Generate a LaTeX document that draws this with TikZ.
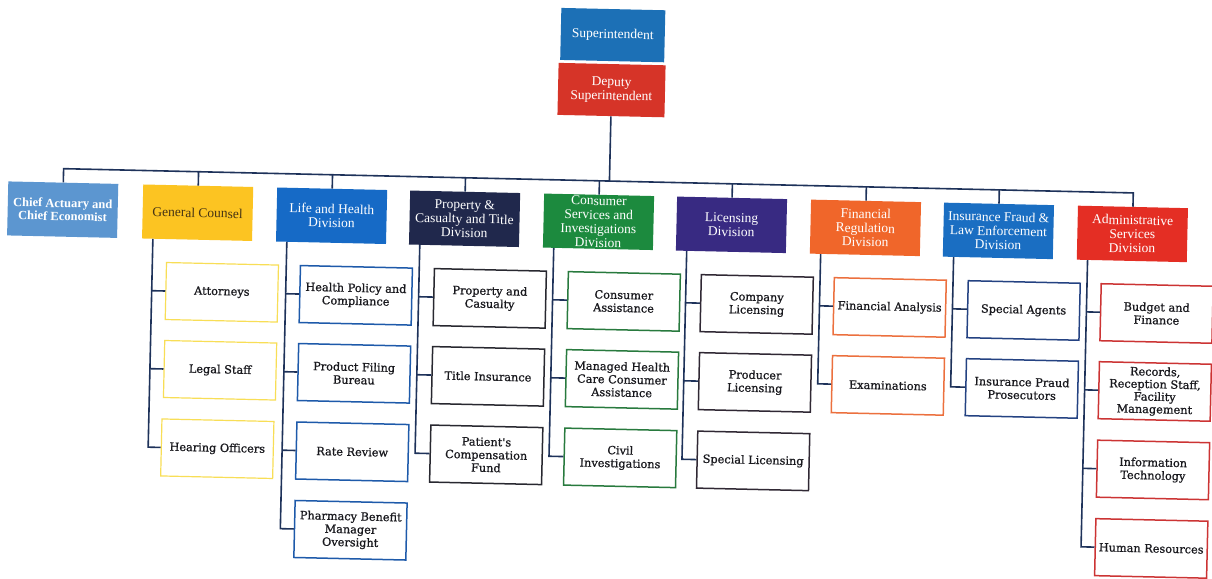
\documentclass[tikz,border=0pt]{standalone}
\usepackage{fontspec}
\setmainfont{Liberation Serif}
\newfontfamily\boxfont[FakeBold=0.9]{DejaVu Serif}
\usetikzlibrary{calc}

\definecolor{linec}{RGB}{30,50,90}
\definecolor{txt}{RGB}{25,25,30}
\definecolor{supc}{RGB}{28,112,182}
\definecolor{depc}{RGB}{214,52,40}
\definecolor{actc}{RGB}{92,150,208}
\definecolor{gcc}{RGB}{252,196,34}
\definecolor{gctxt}{RGB}{70,52,20}
\definecolor{lifec}{RGB}{22,106,198}
\definecolor{pcc}{RGB}{32,40,76}
\definecolor{conc}{RGB}{28,138,62}
\definecolor{licc}{RGB}{56,42,130}
\definecolor{finc}{RGB}{240,102,42}
\definecolor{fraudc}{RGB}{26,110,194}
\definecolor{admc}{RGB}{228,46,36}
\definecolor{gcb}{RGB}{248,222,86}
\definecolor{lifeb}{RGB}{30,90,170}
\definecolor{pcb}{RGB}{40,40,48}
\definecolor{conb}{RGB}{40,122,62}
\definecolor{licb}{RGB}{48,40,52}
\definecolor{finb}{RGB}{236,112,62}
\definecolor{fraudb}{RGB}{36,66,130}
\definecolor{admb}{RGB}{204,52,52}

% spine of a division: vertical line near its left edge, with a stub to each unit
\newcommand\unitspine[3]{%
  \coordinate (#1-a) at ($(#1.north west)!0.1!(#1.north east)$);
  \coordinate (#1-b) at ($(#1.south west)!0.1!(#1.south east)$);
  \foreach \u in {#2} {\draw[conn] ($(#1-a)!(\u.west)!(#1-b)$) -- (\u.west);}
  \draw[conn] (#1-b) -- ($(#1-a)!(#3.west)!(#1-b)$) -- (#3.west);
}

\begin{document}
\begin{tikzpicture}[x=1pt,y=-1pt,
  conn/.style={draw=linec, line width=1.6pt},
  headbox/.style={fill=#1, text=white, minimum width=110pt, minimum height=54pt,
    inner sep=1pt, align=center, font=\fontsize{13.5}{14}\selectfont},
  unitbox/.style={draw=#1, line width=1.5pt, fill=white, text=txt,
    minimum width=112pt, minimum height=57pt, inner sep=1pt, align=center,
    font=\boxfont\fontsize{11.3}{13}\selectfont}]

\fill[white] (0,0) rectangle (1212,578);
\useasboundingbox (0,0) rectangle (1212,578);

\begin{scope}[rotate around={-1.3:(606,289)}, transform shape]

% executive
\node[headbox=supc, minimum width=104pt, minimum height=52pt] (sup) at (607,35) {Superintendent};
\node[headbox=depc, minimum width=107pt, minimum height=52pt] (dep) at (607,90) {Deputy\\Superintendent};

% divisions
\node[headbox=actc, font=\bfseries\fontsize{12.5}{13}\selectfont] (d1) at (61,222) {Chief Actuary and\\Chief Economist};
\node[headbox=gcc, text=gctxt] (d2) at (196,222) {General Counsel};
\node[headbox=lifec] (d3) at (330,222) {Life and Health\\Division};
\node[headbox=pcc] (d4) at (463,222) {Property \&\\Casualty and Title\\Division};
\node[headbox=conc] (d5) at (597,222) {Consumer\\Services and\\Investigations\\Division};
\node[headbox=licc] (d6) at (730,222) {Licensing\\Division};
\node[headbox=finc] (d7) at (864,222) {Financial\\Regulation\\Division};
\node[headbox=fraudc] (d8) at (997,222) {Insurance Fraud \&\\Law Enforcement\\Division};
\node[headbox=admc] (d9) at (1131,222) {Administrative\\Services\\Division};

% bus
\coordinate (bus1) at (61,181);
\coordinate (bus9) at (1131,181);
\draw[conn] (d1.north) -- (bus1) -- (bus9) -- (d9.north);
\draw[conn] (dep.south) -- ($(bus1)!(dep.south)!(bus9)$);
\foreach \d in {d2,d3,d4,d5,d6,d7,d8}
  \draw[conn] (\d.north) -- ($(bus1)!(\d.north)!(bus9)$);

% units
\node[unitbox=gcb, line width=1.2pt] (a1) at (222,301) {Attorneys};
\node[unitbox=gcb, line width=1.2pt] (a2) at (222,379) {Legal Staff};
\node[unitbox=gcb, line width=1.2pt] (a3) at (221,457.5) {Hearing Officers};

\node[unitbox=lifeb] (b1) at (356,301) {Health Policy and\\Compliance};
\node[unitbox=lifeb] (b2) at (356,379) {Product Filing\\Bureau};
\node[unitbox=lifeb] (b3) at (356,457.5) {Rate Review};
\node[unitbox=lifeb] (b4) at (356,536) {Pharmacy Benefit\\Manager\\Oversight};

\node[unitbox=pcb] (c1) at (490,301) {Property and\\Casualty};
\node[unitbox=pcb] (c2) at (490,379) {Title Insurance};
\node[unitbox=pcb] (c3) at (490,457.5) {Patient's\\Compensation\\Fund};

\node[unitbox=conb] (e1) at (624,301) {Consumer\\Assistance};
\node[unitbox=conb] (e2) at (624,379) {Managed Health\\Care Consumer\\Assistance};
\node[unitbox=conb] (e3) at (624,457.5) {Civil\\Investigations};

\node[unitbox=licb] (f1) at (757,301) {Company\\Licensing};
\node[unitbox=licb] (f2) at (757,379) {Producer\\Licensing};
\node[unitbox=licb] (f3) at (757,457.5) {Special Licensing};

\node[unitbox=finb] (g1) at (890,301) {Financial Analysis};
\node[unitbox=finb] (g2) at (890,379) {Examinations};

\node[unitbox=fraudb] (h1) at (1024,301) {Special Agents};
\node[unitbox=fraudb] (h2) at (1024,379) {Insurance Praud\\Prosecutors};

\node[unitbox=admb] (k1) at (1157,301) {Budget and\\Finance};
\node[unitbox=admb, font=\boxfont\fontsize{11.3}{12.5}\selectfont] (k2) at (1157,379) {Records,\\Reception Staff,\\Facility\\Management};
\node[unitbox=admb] (k3) at (1157,457.5) {Information\\Technology};
\node[unitbox=admb] (k4) at (1157,536) {Human Resources};

% spines
\unitspine{d2}{a1,a2}{a3}
\unitspine{d3}{b1,b2,b3}{b4}
\unitspine{d4}{c1,c2}{c3}
\unitspine{d5}{e1,e2}{e3}
\unitspine{d6}{f1,f2}{f3}
\unitspine{d7}{g1}{g2}
\unitspine{d8}{h1}{h2}
\unitspine{d9}{k1,k2,k3}{k4}

\end{scope}
\end{tikzpicture}
\end{document}
